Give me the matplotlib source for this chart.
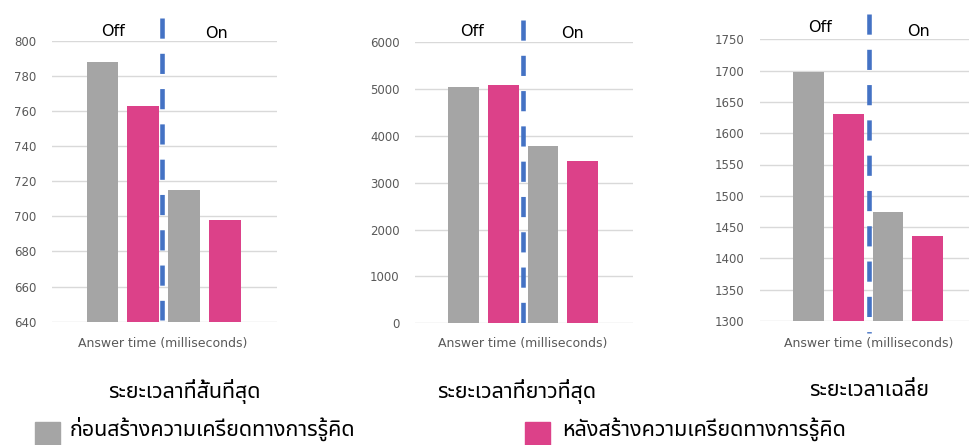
import matplotlib
matplotlib.use("Agg")
import matplotlib.pyplot as plt
import matplotlib.transforms as mtransforms
from matplotlib.patches import Rectangle

# data (milliseconds)
bar_labels = ["Off before", "Off after", "On before", "On after"]
shortest = [788, 763, 715, 698]
longest = [5040, 5080, 3790, 3465]
average = [1698, 1630, 1474, 1436]

panel_titles = ["ระยะเวลาที่สั้นที่สุด", "ระยะเวลาที่ยาวที่สุด", "ระยะเวลาเฉลี่ย"]
legend_labels = ["ก่อนสร้างความเครียดทางการรู้คิด", "หลังสร้างความเครียดทางการรู้คิด"]
y_ranges = [(640, 800, 20), (0, 6000, 1000), (1300, 1750, 50)]
x_label = "Answer time (milliseconds)"

GRAY = "#A5A5A5"
PINK = "#DC4189"
BLUE = "#4472C4"
TICK = "#595959"
THAI = ["Noto Sans Thai", "DejaVu Sans"]

W, H = 969, 445
fig = plt.figure(figsize=(W / 100, H / 100), dpi=100)


def px(x, y):
    # pixel position (top-left origin) -> figure fraction
    return x / W, 1 - y / H


# axes boxes in pixels: left, top, right, bottom
boxes = [(52, 40.7, 277, 321.7), (415, 42.3, 633, 323.3), (760, 39.3, 978, 321)]
divider_x = [1.46, 1.49, 1.53]
divider_span = [(1.08, 0.005), (1.08, -0.004), (1.09, -0.043)]
off_on_pos = [((113, 31), (217, 33)), ((472, 32), (572, 33)), ((820, 28), (918, 32))]
xlabel_x = [163, 523, 869]
title_x = [184, 517, 869]

series = [shortest, longest, average]
for i, vals in enumerate(series):
    l, t, r, b = boxes[i]
    ax = fig.add_axes([l / W, 1 - b / H, (r - l) / W, (b - t) / H])
    lo, hi, step = y_ranges[i]
    ax.bar(range(len(vals)), vals, width=0.77, color=[GRAY, PINK, GRAY, PINK], zorder=3)
    ax.set_xlim(-1.23, 4.27)
    ax.set_ylim(lo, hi)
    ax.set_yticks(range(lo, hi + 1, step))
    ax.set_xticks([])
    ax.grid(axis="y", color="#D9D9D9", linewidth=1, zorder=0)
    for s in ax.spines.values():
        s.set_visible(False)
    ax.tick_params(axis="y", length=0, pad=11, labelsize=8.5, labelcolor=TICK)

    # dashed divider between Off and On
    trans = mtransforms.blended_transform_factory(ax.transData, ax.transAxes)
    top, bot = divider_span[i]
    ax.plot([divider_x[i], divider_x[i]], [top, bot], transform=trans, color=BLUE,
            linewidth=3.3, linestyle=(0, (4.4, 3.3)), clip_on=False, zorder=4,
            dash_capstyle="butt")

    (ox, oy), (nx, ny) = off_on_pos[i]
    fig.text(*px(ox, oy), "Off", ha="center", va="center", fontsize=11.5, color="black")
    fig.text(*px(nx, ny), "On", ha="center", va="center", fontsize=11.5, color="black")

    fig.text(*px(xlabel_x[i], 343), x_label, ha="center", va="center", fontsize=9, color=TICK)
    fig.text(*px(title_x[i], 391), panel_titles[i], ha="center", va="center",
             fontsize=15.5, color="black", family=THAI)

# legend
for (sx, tx), color, label in zip([(35, 70), (525, 562)], [GRAY, PINK], legend_labels):
    x0, y0 = px(sx, 445)
    fig.patches.append(Rectangle((x0, y0), 25 / W, 23 / H, transform=fig.transFigure,
                                 color=color, zorder=3))
    fig.text(*px(tx, 429), label, ha="left", va="center", fontsize=15.5, color="black",
             family=THAI)

fig.savefig("out.png", dpi=100)
